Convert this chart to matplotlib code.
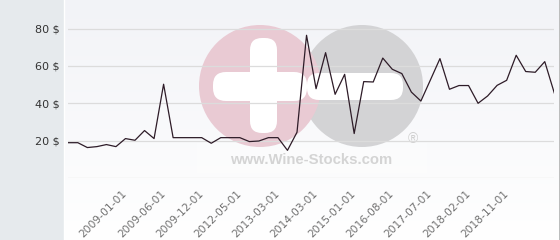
import numpy as np
import matplotlib
matplotlib.use("Agg")
import matplotlib.pyplot as plt
from matplotlib.patches import Circle, FancyBboxPatch, Rectangle

# ---- data ----
prices = [18.9, 18.9, 16.3, 16.8, 17.9, 16.8, 21.1, 20.2, 25.4, 21.1,
          50.2, 21.6, 21.6, 21.6, 21.6, 18.6, 21.6, 21.6, 21.6, 19.5,
          19.8, 21.6, 21.6, 14.8, 24.5, 76.4, 47.8, 67.1, 44.8, 55.5,
          23.8, 51.6, 51.4, 64.2, 58.2, 55.9, 46.0, 41.2, 52.5, 63.9,
          47.5, 49.5, 49.5, 40.0, 43.9, 49.6, 52.3, 65.7, 57.0, 56.6,
          62.3, 45.5]
tick_labels = ["2009-01-01", "2009-06-01", "2009-12-01", "2012-05-01",
               "2013-03-01", "2014-03-01", "2015-01-01", "2016-08-01",
               "2017-07-01", "2018-02-01", "2018-11-01"]
tick_first, tick_step = 6, 4
y_ticks = [20, 40, 60, 80]

W, H = 560, 240
fig = plt.figure(figsize=(W / 100, H / 100), dpi=100)
fig.patch.set_facecolor("#e6eaed")

def fx(px):
    return px / W

def fy(py):
    return 1 - py / H

# background of plot panel (gradient)
bg = fig.add_axes([fx(64), 0, fx(559 - 64), 1])
top = np.array([242, 243, 247]) / 255
bot = np.array([255, 255, 255]) / 255
t = np.linspace(0, 1, 256)[:, None]
grad = top[None, :] * (1 - t) + bot[None, :] * t
bg.imshow(grad[:, None, :], aspect="auto", extent=[0, 1, 0, 1])
bg.set_axis_off()
bg.set_zorder(0)

# overlay in pixel coordinates for decorations / watermark
ov = fig.add_axes([0, 0, 1, 1])
ov.set_xlim(0, W)
ov.set_ylim(H, 0)
ov.set_axis_off()
ov.set_zorder(1)
ov.patch.set_alpha(0)
ov.plot([63.5, 63.5], [0, H], color="white", lw=1.0)
ov.plot([559.5, 559.5], [0, H], color="#b4b4b4", lw=1.2)

# watermark
ov.add_patch(Rectangle((197, 143), 230, 30, facecolor="white", alpha=0.3, lw=0))
ov.add_patch(Circle((362, 86), 61, facecolor="#d3d3d5", lw=0))
ov.add_patch(Circle((260, 86), 61, facecolor="#e9cad3", lw=0))
ov.add_patch(FancyBboxPatch((307, 73), 96, 27, boxstyle="round,pad=0,rounding_size=12",
                            facecolor="white", lw=0))
ov.add_patch(FancyBboxPatch((250, 38), 27, 95, boxstyle="round,pad=0,rounding_size=12",
                            facecolor="white", lw=0))
ov.add_patch(FancyBboxPatch((213, 72), 94, 29, boxstyle="round,pad=0,rounding_size=13",
                            facecolor="white", lw=0))
ov.text(311, 160, "www.Wine-Stocks.com", ha="center", va="center",
        fontsize=10.7, fontweight="bold", family="Liberation Sans", color="#d4d4d4")
ov.text(413, 139, "®", ha="center", va="center", fontsize=10,
        family="Liberation Sans", color="#cfcfcf")

# main axes
x0, x1 = 68.3, 554.3
ybot, ytop = 178, 10
ax = fig.add_axes([fx(x0), fy(ybot), fx(x1 - x0), (ybot - ytop) / H])
ax.set_zorder(2)
ax.patch.set_alpha(0)
ax.set_xlim(0, len(prices) - 1)
ax.set_ylim(0, (ybot - ytop) / 1.868)
for v in [0] + y_ticks:
    ax.axhline(v, color="#dcdcdc", lw=0.9, zorder=1)
ax.plot(np.arange(len(prices)), prices, color="#2e1c28", lw=0.9, zorder=3)

for s in ax.spines.values():
    s.set_visible(False)
ax.set_yticks(y_ticks)
ax.set_yticklabels([f"{v} $" for v in y_ticks], fontsize=8, color="#333333")
ax.tick_params(axis="y", length=0, pad=6.5)
pos = [tick_first + tick_step * i for i in range(len(tick_labels))]
ax.set_xticks(pos)
ax.set_xticklabels(tick_labels, rotation=45, ha="right", va="center",
                   rotation_mode="anchor", fontsize=7.7, color="#707070")
ax.tick_params(axis="x", length=0, pad=10)

fig.savefig("out.png", dpi=100)
